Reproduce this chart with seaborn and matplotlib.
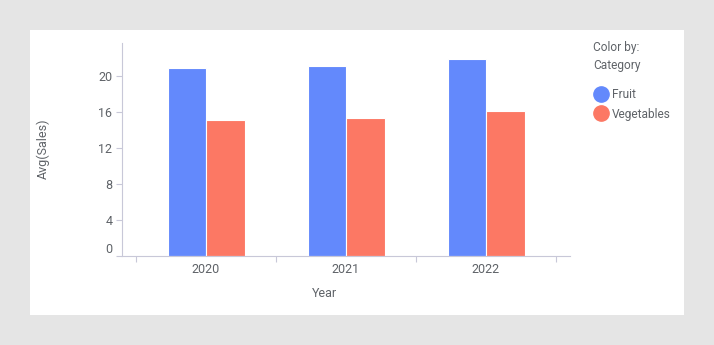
import matplotlib
matplotlib.use("Agg")
import matplotlib.pyplot as plt
from matplotlib.lines import Line2D
import seaborn as sns
import pandas as pd

years = ["2020", "2021", "2022"]
categories = ["Fruit", "Vegetables"]
fruit_sales = [20.85, 21.05, 21.85]
veg_sales = [15.05, 15.3, 16.05]
y_ticks = [0, 4, 8, 12, 16, 20]
colors = ["#6389FC", "#FC7864"]

df = pd.DataFrame({
    "Year": years * 2,
    "Category": ["Fruit"] * 3 + ["Vegetables"] * 3,
    "Sales": fruit_sales + veg_sales,
})

sns.set_theme(style="white")
plt.rcParams["font.family"] = ["Roboto", "DejaVu Sans"]

text_color = "#5f6368"
axis_color = "#c8c8d8"

W, H = 714, 345
fig = plt.figure(figsize=(W / 100, H / 100), dpi=100)
fig.patch.set_facecolor("#e5e5e5")
# white panel
fig.patches.append(plt.Rectangle((30 / W, 1 - 315 / H), 654 / W, 285 / H,
                                 transform=fig.transFigure, facecolor="white",
                                 edgecolor="none", zorder=-10))

left, right, top, bottom = 122, 570, 42.7, 255.7
ax = fig.add_axes([left / W, 1 - bottom / H, (right - left) / W, (bottom - top) / H])
ax.set_facecolor("none")
ax.set_zorder(1)

sns.barplot(data=df, x="Year", y="Sales", hue="Category", order=years,
            hue_order=categories, palette=colors, width=0.55, ax=ax,
            edgecolor="white", linewidth=0.8, errorbar=None, legend=False,
            saturation=1)

ax.set_xlim(-0.6, 2.6)
ax.set_ylim(0, 23.67)
ax.set_yticks(y_ticks)
ax.set_yticklabels([str(v) for v in y_ticks])
ax.tick_params(axis="y", length=4, width=0.8, color=axis_color, labelsize=9,
               labelcolor=text_color, pad=3, left=True)
ax.tick_params(axis="x", length=0, labelsize=9, labelcolor=text_color, pad=5)
ax.set_xticks([-0.5, 0.5, 1.5, 2.5], minor=True)
ax.tick_params(axis="x", which="minor", length=4.5, width=0.8, color=axis_color,
               bottom=True)
for lbl in ax.get_yticklabels():
    if lbl.get_text() == "0":
        lbl.set_verticalalignment("bottom")

for s in ["top", "right"]:
    ax.spines[s].set_visible(False)
for s in ["left", "bottom"]:
    ax.spines[s].set_color(axis_color)
    ax.spines[s].set_linewidth(0.8)

ax.set_xlabel("Year", fontsize=9, color=text_color)
ax.xaxis.set_label_coords((324.5 - left) / (right - left), -(293.3 - bottom) / (bottom - top),
                          transform=ax.transAxes)
ax.xaxis.label.set_verticalalignment("center")
ax.set_ylabel("Avg(Sales)", fontsize=9, color=text_color)
ax.yaxis.set_label_coords((43.5 - left) / (right - left), 0.5)
ax.yaxis.label.set_verticalalignment("center")

leg_fs = 8.6
fig.text(593 / W, 1 - 47 / H, "Color by:", fontsize=leg_fs, color=text_color, va="center", ha="left")
fig.text(593 / W, 1 - 66 / H, "Category", fontsize=leg_fs, color=text_color, va="center", ha="left")

handles = [Line2D([0], [0], marker="o", linestyle="none", markersize=11,
                  markerfacecolor=c, markeredgecolor=c, label=l)
           for c, l in zip(colors, categories)]
leg = fig.legend(handles=handles, loc="upper left",
                 bbox_to_anchor=(591.5 / W, 1 - 88 / H), frameon=False,
                 fontsize=leg_fs, handletextpad=0.08, labelspacing=0.55,
                 borderpad=0, borderaxespad=0, handlelength=1.6)
for t in leg.get_texts():
    t.set_color(text_color)

fig.savefig("out.png", dpi=100, facecolor=fig.get_facecolor())
